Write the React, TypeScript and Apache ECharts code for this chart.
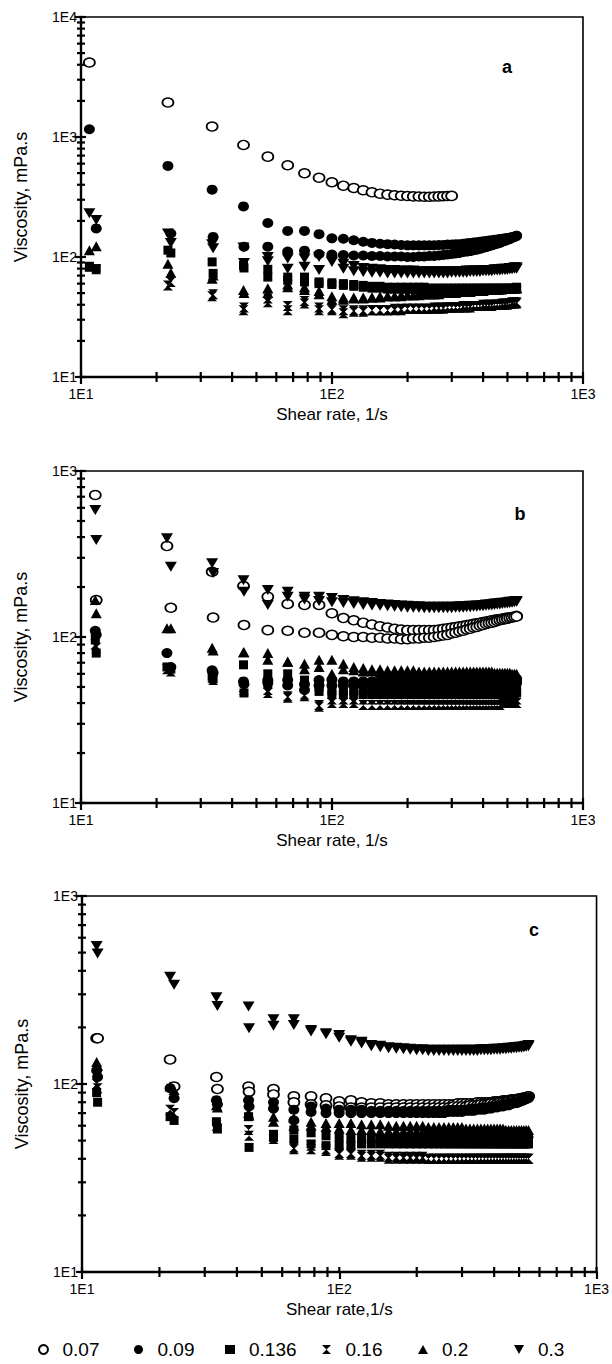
import React, { useEffect, useRef } from "react";
import * as echarts from "echarts";

// ---------- shear-rate columns (1/s) ----------
const ratesA1 = [10.8, 22.2, 33.3, 44.4, 55.5, 66.6, 77.7, 88.8, 99.9, 111.0, 122.1, 133.2, 144.3, 155.4, 166.5, 177.6, 188.7, 199.8, 210.9, 222.0, 233.1, 244.2, 255.3, 266.4, 277.5, 288.6, 299.7, 310.8, 321.9, 333.0, 344.1, 355.2, 366.3, 377.4, 388.5, 399.6, 410.7, 421.8, 432.9, 444.0, 455.1, 466.2, 477.3, 488.4, 499.5, 510.6, 521.7, 532.8, 543.9];
const ratesB1 = [11.4, 22.0, 33.3, 44.4, 55.5, 66.6, 77.7, 88.8, 99.9, 111.0, 122.1, 133.2, 144.3, 155.4, 166.5, 177.6, 188.7, 199.8, 210.9, 222.0, 233.1, 244.2, 255.3, 266.4, 277.5, 288.6, 299.7, 310.8, 321.9, 333.0, 344.1, 355.2, 366.3, 377.4, 388.5, 399.6, 410.7, 421.8, 432.9, 444.0, 455.1, 466.2, 477.3, 488.4, 499.5, 510.6, 521.7, 532.8, 543.9];
const rates2 = [11.5, 22.8, 33.6, 44.6, 55.5, 66.6, 77.7, 88.8, 99.9, 111.0, 122.1, 133.2, 144.3, 155.4, 166.5, 177.6, 188.7, 199.8, 210.9, 222.0, 233.1, 244.2, 255.3, 266.4, 277.5, 288.6, 299.7, 310.8, 321.9, 333.0, 344.1, 355.2, 366.3, 377.4, 388.5, 399.6, 410.7, 421.8, 432.9, 444.0, 455.1, 466.2, 477.3, 488.4, 499.5, 510.6, 521.7, 532.8, 543.9];

const concentrations = ["0.07", "0.09", "0.136", "0.16", "0.2", "0.3"];

// ---------- panel a (viscosity, mPa.s) ----------
const a007s1 = [4180, 1937, 1222, 859, 686, 582, 499, 458, 420, 393, 376, 360, 346, 337, 331, 327, 324, 322, 320, 319, 318, 318, 319, 320, 321, 322, 323];
const a007s2: number[] = [];
const a009s1 = [1161, 574, 364, 264, 192, 165, 165, 155, 143, 142, 138, 134, 131, 129, 128, 127, 126, 125, 125, 125, 125, 125, 125, 126, 126, 127, 127, 128, 128, 129, 130, 131, 132, 133, 134, 135, 136, 137, 138, 139, 140, 141, 142, 143, 144, 145, 147, 148, 150];
const a009s2 = [173, 157, 147, 122, 122, 111, 113, 106, 105, 104, 103, 103, 102, 102, 101, 101, 101, 100, 100, 101, 101, 102, 102, 103, 104, 105, 106, 107, 108, 110, 111, 112, 114, 115, 117, 119, 121, 123, 125, 127, 129, 131, 134, 136, 139, 141, 144, 147, 150];
const a0136s1 = [83, 114, 91, 85, 79, 68, 68, 62, 61, 60, 59, 58, 57, 57, 56, 56, 56, 56, 56, 56, 56, 55, 55, 55, 55, 55, 55, 55, 55, 55, 55, 55, 55, 55, 55, 55, 55, 55, 55, 55, 55, 55, 55, 55, 55, 55, 55, 55, 56];
const a0136s2 = [80, 108, 73, 81, 68, 64, 62, 60, 59, 58, 57, 56, 55, 55, 54, 54, 54, 54, 54, 54, 53, 53, 53, 53, 53, 53, 53, 53, 53, 53, 53, 53, 53, 53, 53, 53, 53, 53, 53, 53, 53, 53, 53, 54, 54, 54, 54, 54, 54];
const a016s1 = [83, 58, 47, 36, 45, 36, 43, 36, 36, 34, 35, 35, 36, 36, 36, 36, 36, 37, 37, 37, 37, 37, 37, 37, 37, 38, 38, 38, 38, 38, 38, 38, 39, 39, 39, 39, 39, 39, 39, 40, 40, 40, 40, 40, 40, 41, 41, 41, 41];
const a016s2 = [79, 62, 49, 38, 42, 39, 41, 38, 37, 36, 36, 36, 36, 36, 36, 37, 37, 37, 37, 37, 37, 37, 38, 38, 38, 38, 38, 38, 38, 39, 39, 39, 39, 39, 39, 40, 40, 40, 40, 40, 40, 40, 41, 41, 41, 41, 42, 42, 42];
const a02s1 = [114, 88, 66, 53, 55, 56, 56, 49, 47, 46, 46, 46, 46, 47, 47, 47, 48, 48, 48, 49, 49, 49, 49, 50, 50, 50, 50, 51, 51, 51, 51, 52, 52, 52, 52, 52, 53, 53, 53, 53, 53, 54, 54, 54, 54, 54, 55, 55, 55];
const a02s2 = [123, 74, 70, 50, 50, 59, 53, 52, 44, 44, 45, 45, 46, 46, 47, 47, 47, 48, 48, 48, 49, 49, 49, 49, 50, 50, 50, 50, 51, 51, 51, 51, 52, 52, 52, 52, 53, 53, 53, 53, 53, 54, 54, 54, 54, 54, 55, 55, 55];
const a03s1 = [231, 157, 128, 120, 100, 97, 97, 100, 93, 88, 84, 81, 80, 79, 78, 78, 77, 77, 77, 76, 76, 76, 76, 76, 76, 76, 76, 76, 76, 76, 77, 77, 77, 77, 77, 78, 78, 78, 78, 79, 79, 79, 80, 80, 80, 81, 81, 82, 82];
const a03s2 = [203, 131, 118, 89, 92, 80, 83, 78, 91, 80, 76, 75, 74, 74, 73, 73, 73, 73, 73, 73, 73, 73, 73, 73, 73, 73, 74, 74, 74, 74, 74, 75, 75, 75, 75, 76, 76, 76, 76, 77, 77, 77, 78, 78, 78, 79, 79, 80, 80];

// ---------- panel b ----------
const b007s1 = [717, 353, 247, 203, 175, 158, 156, 156, 139, 130, 126, 122, 119, 116, 114, 112, 111, 110, 110, 110, 110, 110, 110, 111, 112, 113, 114, 115, 116, 117, 118, 119, 120, 121, 122, 123, 124, 125, 126, 127, 128, 128, 129, 130, 131, 131, 132, 133, 134];
const b007s2 = [167, 150, 131, 118, 110, 109, 106, 106, 103, 101, 100, 100, 99, 99, 98, 98, 97, 97, 98, 98, 99, 99, 100, 101, 102, 103, 105, 106, 108, 109, 111, 112, 114, 115, 117, 118, 120, 121, 122, 123, 125, 126, 127, 128, 129, 130, 131, 132, 133];
const b009s1 = [109, 80, 63, 54, 55, 55, 52, 55, 55, 54, 54, 54, 54, 54, 54, 54, 54, 54, 54, 54, 54, 54, 54, 54, 54, 54, 54, 54, 54, 54, 54, 54, 54, 54, 54, 55, 55, 55, 55, 55, 55, 55, 55, 55, 56, 56, 56, 56, 56];
const b009s2 = [103, 66, 61, 52, 53, 51, 48, 51, 51, 51, 51, 51, 51, 51, 51, 51, 51, 51, 51, 51, 51, 51, 51, 51, 51, 51, 51, 51, 51, 51, 51, 51, 51, 51, 51, 51, 51, 51, 51, 51, 52, 52, 52, 52, 52, 52, 52, 53, 53];
const b0136s1 = [96, 66, 58, 68, 60, 60, 55, 50, 48, 48, 48, 48, 48, 48, 48, 48, 48, 48, 48, 48, 48, 48, 48, 48, 48, 48, 48, 48, 48, 48, 48, 48, 48, 48, 48, 48, 48, 48, 48, 48, 48, 48, 48, 48, 48, 48, 49, 49, 49];
const b0136s2 = [80, 64, 56, 46, 52, 53, 50, 47, 45, 45, 45, 45, 45, 45, 45, 45, 45, 45, 45, 45, 45, 45, 45, 45, 45, 45, 45, 45, 45, 45, 45, 45, 45, 45, 45, 45, 45, 45, 45, 45, 45, 45, 45, 45, 45, 45, 46, 46, 46];
const b016s1 = [90, 64, 57, 50, 48, 44, 45, 38, 42, 42, 42, 42, 42, 42, 42, 42, 42, 42, 42, 42, 42, 42, 42, 42, 42, 42, 42, 42, 42, 42, 42, 42, 42, 42, 42, 42, 42, 42, 42, 42, 42, 42, 42, 42, 42, 42, 42, 42, 42];
const b016s2 = [86, 62, 55, 48, 46, 43, 44, 39, 40, 40, 40, 39, 39, 39, 39, 39, 39, 39, 39, 39, 39, 39, 39, 39, 39, 39, 39, 39, 39, 39, 39, 39, 39, 39, 39, 39, 39, 39, 39, 39, 39, 39, 40, 40, 40, 40, 40, 40, 40];
const b02s1 = [167, 113, 86, 81, 80, 71, 69, 73, 73, 69, 66, 65, 64, 64, 63, 63, 63, 63, 63, 62, 62, 62, 62, 62, 62, 62, 62, 62, 62, 62, 62, 62, 62, 62, 62, 62, 62, 62, 62, 61, 61, 61, 61, 61, 61, 61, 60, 60, 60];
const b02s2 = [139, 113, 83, 81, 73, 71, 64, 66, 60, 64, 63, 62, 62, 61, 61, 61, 60, 60, 60, 60, 60, 60, 60, 60, 60, 60, 60, 60, 60, 60, 60, 60, 60, 60, 60, 60, 60, 60, 59, 59, 59, 59, 59, 59, 59, 59, 58, 58, 58];
const b03s1 = [582, 394, 278, 220, 192, 187, 175, 175, 172, 167, 164, 162, 160, 158, 157, 156, 155, 154, 153, 153, 152, 152, 152, 152, 152, 152, 152, 152, 153, 153, 153, 154, 154, 155, 155, 156, 157, 157, 158, 159, 159, 160, 161, 161, 162, 163, 163, 164, 165];
const b03s2 = [384, 265, 243, 187, 156, 175, 168, 165, 162, 160, 158, 156, 155, 154, 153, 152, 151, 150, 150, 150, 149, 149, 149, 149, 149, 149, 149, 150, 150, 150, 151, 151, 152, 152, 153, 153, 154, 155, 155, 156, 157, 157, 158, 159, 159, 160, 161, 162, 163];

// ---------- panel c ----------
const c007s1 = [175, 135, 109, 97, 94, 86, 86, 84, 81, 82, 80, 79, 79, 78, 78, 78, 78, 78, 78, 78, 78, 78, 78, 78, 78, 79, 79, 79, 79, 79, 80, 80, 80, 80, 80, 81, 81, 81, 82, 82, 82, 83, 83, 83, 84, 84, 85, 85, 86];
const c007s2 = [175, 97, 94, 91, 88, 80, 78, 77, 76, 75, 75, 75, 75, 75, 75, 75, 75, 75, 75, 75, 75, 75, 75, 75, 76, 76, 76, 76, 77, 77, 77, 78, 78, 78, 79, 79, 79, 80, 80, 80, 81, 81, 82, 82, 83, 83, 84, 85, 86];
const c009s1 = [118, 95, 82, 82, 80, 73, 76, 74, 73, 73, 73, 72, 72, 72, 72, 72, 72, 72, 72, 72, 72, 72, 72, 73, 73, 73, 73, 73, 74, 74, 74, 75, 75, 75, 76, 76, 77, 77, 78, 78, 79, 79, 80, 80, 81, 82, 83, 84, 85];
const c009s2 = [109, 84, 78, 76, 74, 64, 71, 70, 70, 70, 70, 70, 70, 70, 70, 70, 70, 70, 70, 70, 70, 70, 70, 71, 71, 71, 71, 72, 72, 72, 73, 73, 73, 74, 74, 75, 75, 76, 76, 77, 77, 78, 79, 79, 80, 81, 82, 83, 84];
const c0136s1 = [90, 67, 63, 67, 54, 57, 55, 53, 52, 51, 51, 51, 51, 51, 51, 51, 51, 51, 51, 51, 51, 51, 51, 51, 51, 51, 51, 51, 51, 51, 51, 51, 51, 51, 51, 51, 51, 51, 51, 51, 51, 51, 51, 51, 51, 51, 51, 51, 51];
const c0136s2 = [80, 64, 58, 46, 52, 51, 48, 47, 47, 47, 48, 48, 48, 48, 48, 48, 48, 48, 48, 48, 48, 48, 48, 48, 48, 48, 48, 48, 48, 48, 48, 48, 48, 48, 48, 48, 48, 48, 48, 48, 48, 48, 48, 48, 48, 48, 48, 48, 48];
const c016s1 = [100, 73, 60, 57, 53, 45, 47, 45, 43, 43, 42, 42, 42, 41, 41, 41, 41, 41, 41, 40, 40, 40, 40, 40, 40, 40, 40, 40, 40, 40, 40, 40, 40, 40, 40, 40, 40, 40, 40, 40, 40, 40, 40, 40, 40, 40, 40, 40, 40];
const c016s2 = [95, 70, 58, 53, 51, 46, 45, 44, 42, 42, 41, 41, 41, 40, 40, 40, 40, 40, 40, 40, 40, 40, 40, 40, 40, 40, 40, 40, 40, 40, 40, 40, 40, 40, 40, 40, 40, 40, 40, 40, 40, 40, 40, 40, 40, 40, 40, 40, 40];
const c02s1 = [131, 97, 77, 70, 67, 66, 63, 62, 62, 62, 61, 61, 61, 60, 60, 60, 60, 60, 60, 59, 59, 59, 59, 59, 59, 59, 59, 58, 58, 58, 58, 58, 58, 58, 58, 58, 58, 58, 58, 57, 57, 57, 57, 57, 57, 57, 57, 57, 57];
const c02s2 = [125, 93, 75, 68, 63, 60, 60, 59, 58, 57, 57, 57, 56, 56, 56, 56, 56, 56, 56, 56, 56, 56, 56, 56, 56, 56, 56, 55, 55, 55, 55, 55, 55, 55, 55, 55, 55, 55, 55, 55, 55, 55, 55, 55, 55, 55, 55, 55, 55];
const c03s1 = [542, 372, 289, 258, 221, 221, 194, 186, 182, 171, 168, 161, 160, 157, 156, 155, 154, 153, 153, 152, 152, 152, 152, 152, 152, 152, 152, 152, 152, 152, 152, 153, 153, 153, 153, 154, 154, 154, 155, 155, 156, 156, 157, 157, 158, 158, 159, 160, 161];
const c03s2 = [495, 337, 260, 198, 204, 206, 190, 184, 176, 168, 164, 159, 157, 155, 154, 153, 152, 151, 151, 150, 150, 150, 150, 150, 150, 150, 150, 150, 150, 150, 150, 151, 151, 151, 151, 152, 152, 152, 153, 153, 154, 154, 155, 155, 156, 156, 157, 158, 159];

// ---------- axis tick values ----------
const xTickMajor = [10, 100, 1000];
const xTickMinor = [20, 30, 40, 50, 60, 70, 80, 90, 200, 300, 400, 500, 600, 700, 800, 900];
const yTickMajorA = [10, 100, 1000, 10000];
const yTickMinorA = [20, 30, 40, 50, 60, 70, 80, 90, 200, 300, 400, 500, 600, 700, 800, 900, 2000, 3000, 4000, 5000, 6000, 7000, 8000, 9000];
const yTickMajorBC = [10, 100, 1000];
const yTickMinorBC = [20, 30, 40, 50, 60, 70, 80, 90, 200, 300, 400, 500, 600, 700, 800, 900];

const panelLetters = ["a", "b", "c"];
const xTitles = ["Shear rate, 1/s", "Shear rate, 1/s", "Shear rate,1/s"];
const yTitle = "Viscosity, mPa.s";

const FONT = "'Liberation Sans', Arial, Helvetica, sans-serif";

const symbolStyles: Record<string, any> = {
  "0.07": { symbol: "circle", symbolSize: [11, 9], itemStyle: { color: "#fff", borderColor: "#000", borderWidth: 1.6, opacity: 1 } },
  "0.09": { symbol: "circle", symbolSize: [11, 10], itemStyle: { color: "#000", opacity: 1 } },
  "0.136": { symbol: "rect", symbolSize: [9, 9], itemStyle: { color: "#000", opacity: 1 } },
  "0.16": { symbol: "path://M0,0L10,0L5,5ZM5,5L10,10L0,10Z", symbolSize: [10, 10], symbolKeepAspect: false, itemStyle: { color: "#000", opacity: 1 } },
  "0.2": { symbol: "triangle", symbolSize: [11, 10], itemStyle: { color: "#000", opacity: 1 } },
  "0.3": { symbol: "path://M0,0L10,0L5,9Z", symbolSize: [12, 10], symbolKeepAspect: false, itemStyle: { color: "#000", opacity: 1 } },
};

export default function App() {
  const ref = useRef<HTMLDivElement>(null);

  useEffect(() => {
    if (!ref.current) return;
    const chart = echarts.init(ref.current, undefined, { renderer: "svg" });

    const grids = [
      { left: 81, top: 17, width: 502, height: 360 },
      { left: 81, top: 471, width: 502, height: 332 },
      { left: 82, top: 896, width: 515, height: 376 },
    ];
    const yMax = [10000, 1000, 1000];

    const panels = [
      { s1: [a007s1, a009s1, a0136s1, a016s1, a02s1, a03s1], s2: [a007s2, a009s2, a0136s2, a016s2, a02s2, a03s2], r1: ratesA1, r2: rates2 },
      { s1: [b007s1, b009s1, b0136s1, b016s1, b02s1, b03s1], s2: [b007s2, b009s2, b0136s2, b016s2, b02s2, b03s2], r1: ratesB1, r2: rates2 },
      { s1: [c007s1, c009s1, c0136s1, c016s1, c02s1, c03s1], s2: [c007s2, c009s2, c0136s2, c016s2, c02s2, c03s2], r1: ratesB1, r2: rates2 },
    ];

    const labelFmt = (v: number) => "1E" + Math.round(Math.log10(v));

    const xAxes = grids.map((_, i) => ({
      type: "log",
      logBase: 10,
      gridIndex: i,
      min: 10,
      max: 1000,
      axisLine: { show: true, lineStyle: { color: "#000", width: 2.4 } },
      axisTick: { show: true, inside: false, length: 7, lineStyle: { color: "#000", width: 2.2 } },
      minorTick: { show: false },
      splitLine: { show: false },
      axisLabel: { formatter: labelFmt, color: "#000", fontSize: 14, fontFamily: FONT, margin: 10 },
      name: xTitles[i],
      nameLocation: "middle",
      nameGap: 29,
      nameTextStyle: { color: "#000", fontSize: 17, fontFamily: FONT },
    }));
    const yAxes = grids.map((_, i) => ({
      type: "log",
      logBase: 10,
      gridIndex: i,
      min: 10,
      max: yMax[i],
      axisLine: { show: true, lineStyle: { color: "#000", width: 2.4 } },
      axisTick: { show: true, inside: false, length: 6, lineStyle: { color: "#000", width: 2.2 } },
      minorTick: { show: false },
      splitLine: { show: false },
      axisLabel: { formatter: labelFmt, color: "#000", fontSize: 14, fontFamily: FONT, margin: 4 },
      name: yTitle,
      nameLocation: "middle",
      nameRotate: 90,
      nameGap: 51,
      nameTextStyle: { color: "#000", fontSize: 18, fontFamily: FONT },
    }));

    const series: any[] = [];
    panels.forEach((p, gi) => {
      concentrations.forEach((c, ci) => {
        const st = symbolStyles[c];
        [
          { vals: p.s1[ci], rates: p.r1 },
          { vals: p.s2[ci], rates: p.r2 },
        ].forEach((sw) => {
          if (!sw.vals.length) return;
          series.push({
            type: "scatter",
            name: c,
            xAxisIndex: gi,
            yAxisIndex: gi,
            data: sw.vals.map((v, k) => [sw.rates[k], v]),
            ...st,
            z: 3 + ci,
            clip: false,
          });
        });
      });
    });

    const legendCenters = [38, 134, 225, 322, 418, 514];
    const legends = concentrations.map((c, i) => ({
      data: [c],
      left: legendCenters[i] - 5,
      top: 1335,
      itemWidth: 10,
      itemHeight: 9,
      selectedMode: false,
      textStyle: { color: "#000", fontSize: 19, fontFamily: FONT, padding: [0, 0, 0, 9] },
    }));

    const letterPos = [
      [507, 67],
      [520, 514],
      [534, 930],
    ];
    const letterGraphics = letterPos.map((pos, i) => ({
      type: "text",
      x: pos[0],
      y: pos[1],
      z: 10,
      style: {
        text: panelLetters[i],
        fontSize: 18,
        fontWeight: "bold",
        fontFamily: FONT,
        fill: "#000",
        align: "center",
        verticalAlign: "middle",
      },
    }));

    chart.setOption({
      animation: false,
      backgroundColor: "#fff",
      textStyle: { fontFamily: FONT },
      grid: grids.map((g) => ({ ...g, show: true, borderColor: "#000", borderWidth: 1.6, backgroundColor: "transparent" })),
      xAxis: xAxes,
      yAxis: yAxes,
      legend: legends,
      tooltip: { show: false },
      graphic: letterGraphics,
      series,
    });

    // minor ticks (and the inner half of the major ticks), placed through each axis' own scale
    const tickGraphics: any[] = [];
    const axisPos = (kind: "x" | "y", gi: number, v: number) => {
      let px = NaN;
      try {
        const r: any = chart.convertToPixel(kind === "x" ? { xAxisIndex: gi } : { yAxisIndex: gi }, v);
        px = Array.isArray(r) ? r[kind === "x" ? 0 : 1] : r;
      } catch (e) {
        px = NaN;
      }
      return px;
    };
    const TW = 2.2;
    grids.forEach((g, gi) => {
      const baseY = g.top + g.height;
      const baseX = g.left;
      const addX = (v: number, lo: number, hi: number) => {
        const x = axisPos("x", gi, v);
        if (!isFinite(x)) return;
        tickGraphics.push({ type: "rect", z: 9, silent: true, shape: { x: x - TW / 2, y: baseY - lo, width: TW, height: lo + hi }, style: { fill: "#000" } });
      };
      const addY = (v: number, lo: number, hi: number) => {
        const y = axisPos("y", gi, v);
        if (!isFinite(y)) return;
        tickGraphics.push({ type: "rect", z: 9, silent: true, shape: { x: baseX - lo, y: y - TW / 2, width: lo + hi, height: TW }, style: { fill: "#000" } });
      };
      xTickMajor.forEach((v) => addX(v, 5, 0));
      xTickMinor.forEach((v) => addX(v, 5, 5));
      (gi === 0 ? yTickMajorA : yTickMajorBC).forEach((v) => addY(v, 0, 5));
      (gi === 0 ? yTickMinorA : yTickMinorBC).forEach((v) => addY(v, 4, 4));
    });
    chart.setOption({ graphic: [...letterGraphics, ...tickGraphics] });

    return () => chart.dispose();
  }, []);

  return (
    <div
      ref={ref}
      style={{ position: "absolute", left: 0, top: 0, width: 612, height: 1364, background: "#fff" }}
    />
  );
}
